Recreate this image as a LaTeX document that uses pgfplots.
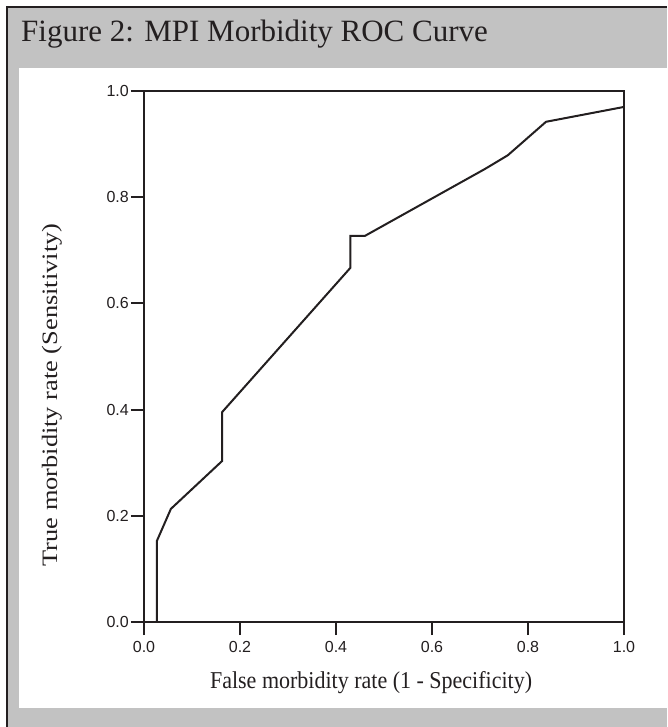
\documentclass[border=0pt]{standalone}
\usepackage{pgfplots}
\pgfplotsset{compat=1.18}
\usepackage{fontspec}
\usepackage{graphicx}
\setmainfont{Liberation Serif}
\newfontfamily\ticksans{Liberation Sans}
\definecolor{framegrey}{HTML}{C2C2C2}
\definecolor{ink}{HTML}{231F20}

\begin{document}
\begin{tikzpicture}[x=1pt,y=1pt]
% picture pixel (u,v) sits at (u-144, 622-v)
\useasboundingbox (-144,-105) rectangle (523,622);
\fill[white] (-144,-105) rectangle (523,622);
\fill[framegrey] (-137,-105) rectangle (523,615);
\draw[ink, line width=2pt] (-137,-105) -- (-137,615) -- (523,615);
\fill[white] (-125,-86) rectangle (523,554);
\node[anchor=base west, inner sep=0pt, text=ink,
      font=\fontsize{31}{31}\selectfont] at (-123,580)
      {Figure 2: MPI Morbidity ROC Curve};

\begin{axis}[
    at={(0,0)}, anchor=south west,
    scale only axis,
    width=480pt, height=531pt,
    xmin=0, xmax=1, ymin=0, ymax=1,
    xtick={0,0.2,0.4,0.6,0.8,1},
    ytick={0,0.2,0.4,0.6,0.8,1},
    tick pos=left,
    tick align=outside,
    major tick length=13pt,
    axis line style={ink, line width=2pt},
    tick style={ink, line width=2pt},
    /pgf/number format/assume math mode=true,
    /pgf/number format/fixed,
    /pgf/number format/fixed zerofill,
    /pgf/number format/precision=1,
    tick label style={font=\ticksans\fontsize{16}{16}\selectfont, text=ink},
    xticklabel style={inner sep=0pt, yshift=-6pt},
    yticklabel style={inner sep=0pt, xshift=-2pt},
    xlabel={\scalebox{1}[1.1]{False morbidity rate (1 - Specificity)}},
    ylabel={\scalebox{1.2}[1]{True morbidity rate (Sensitivity)}},
    label style={font=\fontsize{22}{22}\selectfont, text=ink, inner sep=0pt},
    xlabel style={at={(axis description cs:0.473,-0.1243)}, anchor=base},
    ylabel style={at={(axis description cs:-0.1917,0.4275)}, anchor=center},
]
\addplot[ink, line width=2pt, line join=miter] coordinates {
    (0,0) (0.027,0) (0.027,0.153) (0.056,0.213) (0.1625,0.303)
    (0.1625,0.395) (0.43,0.667) (0.43,0.727) (0.46,0.727)
    (0.71,0.853) (0.758,0.879) (0.8375,0.942) (1.0,0.97) (1.0,1.0)
};
\end{axis}
\end{tikzpicture}
\end{document}
